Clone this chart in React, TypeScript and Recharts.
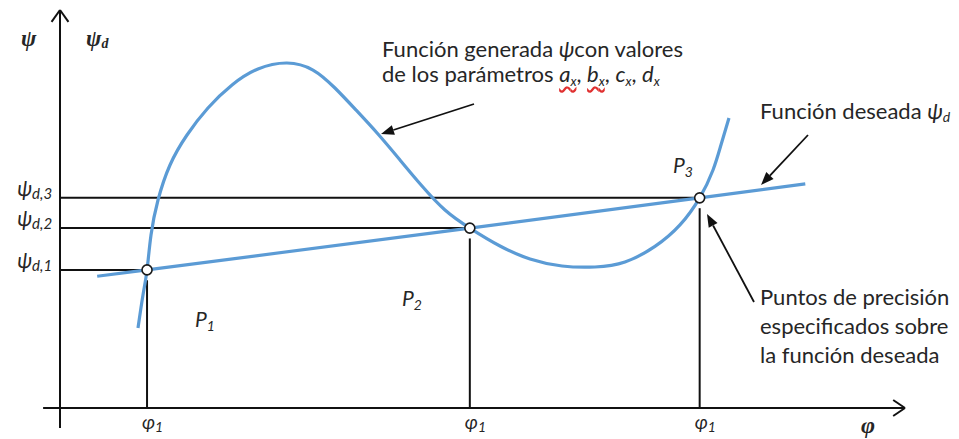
import React from "react";
import {
  ComposedChart,
  Line,
  Scatter,
  XAxis,
  YAxis,
  ReferenceLine,
  Customized,
} from "recharts";

// Precision points: angle φ and desired output ψd at each one
const PHI_POINTS = [10.3, 48.5, 75.7];
const PSI_DESIRED = [34.7, 45.2, 52.8];
const PSI_TICK_SUBS = ["d,1", "d,2", "d,3"];
const PHI_TICK_SUBS = ["1", "1", "1"];
const POINT_SUBS = ["1", "2", "3"];

// Desired function ψd (straight line through the precision points)
const DESIRED_PHI = [4.4, 10.3, 48.5, 75.7, 88.2];
const DESIRED_PSI = [33.1, 34.7, 45.2, 52.8, 56.3];

// Generated function ψ for parameters a, b, c, d
const GEN_PHI = [
  9.23, 9.82, 10.3, 10.77, 11.6, 13.02, 15.03, 17.51, 20.36, 23.43, 26.86,
  29.94, 32.54, 35.03, 37.63, 40.24, 42.84, 45.56, 48.5, 52.07, 55.62, 59.41,
  63.31, 66.86, 70.41, 73.37, 75.7, 77.28, 78.22, 79.17,
];
const GEN_PSI = [
  20.1, 28.39, 34.7, 43.47, 52.26, 61.06, 68.59, 75.38, 81.16, 85.18, 86.68,
  84.92, 80.4, 74.87, 68.84, 62.31, 55.78, 49.75, 45.2, 40.7, 37.44, 35.68,
  35.43, 36.68, 40.6, 46.0, 52.8, 59.8, 66.08, 72.86,
];

const X_DOMAIN: [number, number] = [-2, 100];
const Y_DOMAIN: [number, number] = [-5, 100];

const BLUE = "#5B9BD5";
const INK = "#262626";
const SANS = "Lato, 'Open Sans', sans-serif";
const SERIF = "'Liberation Serif', 'DejaVu Serif', serif";
const FS = 22;

const genData = GEN_PHI.map((x, i) => ({ x, y: GEN_PSI[i] }));
const desiredData = DESIRED_PHI.map((x, i) => ({ x, y: DESIRED_PSI[i] }));
const pointData = PHI_POINTS.map((x, i) => ({ x, y: PSI_DESIRED[i] }));

const PsiTick = (props: any) => {
  const { x, y, index } = props;
  return (
    <text
      x={x + 9}
      y={y - 2}
      textAnchor="end"
      fontFamily={SANS}
      fontStyle="italic"
      fontSize={21}
      fill={INK}
    >
      ψ
      <tspan fontSize={15} dy={3}>
        {PSI_TICK_SUBS[index]}
      </tspan>
    </text>
  );
};

const PhiTick = (props: any) => {
  const { x, y, index } = props;
  return (
    <text
      x={x - 5}
      y={y + 1}
      textAnchor="start"
      fontFamily={SANS}
      fontStyle="italic"
      fontSize={19}
      fill={INK}
    >
      φ
      <tspan fontSize={14} dy={3}>
        {PHI_TICK_SUBS[index]}
      </tspan>
    </text>
  );
};

const PointDot = (props: any) => (
  <circle cx={props.cx} cy={props.cy} r={5} fill="#fff" stroke="#1a1a1a" strokeWidth={1.6} />
);

type ArrowProps = { x1: number; y1: number; x2: number; y2: number };
const Arrow = ({ x1, y1, x2, y2 }: ArrowProps) => {
  const ang = Math.atan2(y2 - y1, x2 - x1);
  const len = 13;
  const half = 5;
  const bx = x2 - len * Math.cos(ang);
  const by = y2 - len * Math.sin(ang);
  const px = -Math.sin(ang) * half;
  const py = Math.cos(ang) * half;
  return (
    <g>
      <line x1={x1} y1={y1} x2={bx} y2={by} stroke="#111" strokeWidth={1.8} />
      <polygon
        points={`${x2},${y2} ${bx + px},${by + py} ${bx - px},${by - py}`}
        fill="#111"
      />
    </g>
  );
};

const squiggle: React.CSSProperties = {
  textDecorationLine: "underline",
  textDecorationStyle: "wavy",
  textDecorationColor: "#e03030",
  textUnderlineOffset: "4px",
};
const subStyle: React.CSSProperties = { fontSize: 13, verticalAlign: "-4px", lineHeight: 0 };

const Annotations = () => (
  <g>
    {/* axis names */}
    <text x={21} y={46} fontFamily={SERIF} fontStyle="italic" fontWeight="bold" fontSize={23} fill={INK}>
      ψ
    </text>
    <text x={86} y={46} fontFamily={SERIF} fontStyle="italic" fontWeight="bold" fontSize={23} fill={INK}>
      ψ
      <tspan fontSize={14} dy={2}>d</tspan>
    </text>
    <text x={861} y={433} fontFamily={SERIF} fontStyle="italic" fontWeight="bold" fontSize={24} fill={INK}>
      φ
    </text>

    {/* generated function callout */}
    <text x={382} y={57} fontFamily={SANS} fontSize={FS} fill={INK}>
      Función generada <tspan fontStyle="italic">ψ</tspan>con valores
    </text>
    <foreignObject x={382} y={61} width={340} height={32}>
      <div
        style={{
          fontFamily: SANS,
          fontSize: FS,
          color: INK,
          whiteSpace: "nowrap",
          lineHeight: "26px",
        }}
      >
        de los parámetros{" "}
        <i style={squiggle}>
          a<sub style={subStyle}>x</sub>
        </i>
        ,{" "}
        <i style={squiggle}>
          b<sub style={subStyle}>x</sub>
        </i>
        , <i>c<sub style={subStyle}>x</sub></i>, <i>d<sub style={subStyle}>x</sub></i>
      </div>
    </foreignObject>
    <Arrow x1={474} y1={104} x2={381} y2={134} />

    {/* desired function callout */}
    <text x={760} y={119} fontFamily={SANS} fontSize={FS} fill={INK}>
      Función deseada <tspan fontStyle="italic">ψ</tspan>
      <tspan fontStyle="italic" fontSize={14} dy={3}>d</tspan>
    </text>
    <Arrow x1={808} y1={135} x2={761} y2={185} />

    {/* precision points callout */}
    <text fontFamily={SANS} fontSize={FS} fill={INK}>
      <tspan x={760} y={305}>Puntos de precisión</tspan>
      <tspan x={760} y={334}>especificados sobre</tspan>
      <tspan x={760} y={363}>la función deseada</tspan>
    </text>
    <Arrow x1={754} y1={302} x2={707} y2={214} />

    {/* point names */}
    {[
      { x: 195, y: 327 },
      { x: 402, y: 306 },
      { x: 673, y: 173 },
    ].map((p, i) => (
      <text key={i} x={p.x} y={p.y} fontFamily={SANS} fontStyle="italic" fontSize={21} fill={INK}>
        P<tspan fontSize={14} dy={4}>{POINT_SUBS[i]}</tspan>
      </text>
    ))}
  </g>
);

export default function App() {
  return (
    <div style={{ position: "absolute", left: 0, top: 0, background: "#fff" }}>
      <ComposedChart
        width={959}
        height={439}
        margin={{ top: 10, right: 54, bottom: 0, left: 0 }}
      >
        <XAxis
          type="number"
          dataKey="x"
          domain={X_DOMAIN}
          allowDataOverflow
          ticks={PHI_POINTS}
          tick={<PhiTick />}
          axisLine={false}
          tickLine={false}
          tickSize={0}
          tickMargin={0}
          height={11.1}
          interval={0}
        />
        <YAxis
          type="number"
          dataKey="y"
          domain={Y_DOMAIN}
          allowDataOverflow
          ticks={PSI_DESIRED}
          tick={<PsiTick />}
          axisLine={false}
          tickLine={false}
          tickSize={0}
          tickMargin={0}
          width={43.1}
          interval={0}
        />

        {/* axes with open arrowheads */}
        <ReferenceLine y={0} stroke="#111" strokeWidth={2} ifOverflow="visible" />
        <ReferenceLine x={0} stroke="#111" strokeWidth={2} ifOverflow="visible" />
        <ReferenceLine segment={[{ x: -1, y: 97 }, { x: 0, y: 100 }]} stroke="#111" strokeWidth={2} />
        <ReferenceLine segment={[{ x: 1, y: 97 }, { x: 0, y: 100 }]} stroke="#111" strokeWidth={2} />
        <ReferenceLine segment={[{ x: 98.6, y: 2 }, { x: 100, y: 0 }]} stroke="#111" strokeWidth={2} />
        <ReferenceLine segment={[{ x: 98.6, y: -2 }, { x: 100, y: 0 }]} stroke="#111" strokeWidth={2} />

        {/* guide lines to the precision points */}
        {PHI_POINTS.map((phi, i) => (
          <ReferenceLine
            key={`h${i}`}
            segment={[{ x: 0, y: PSI_DESIRED[i] }, { x: phi, y: PSI_DESIRED[i] }]}
            stroke="#111"
            strokeWidth={2}
          />
        ))}
        {PHI_POINTS.map((phi, i) => (
          <ReferenceLine
            key={`v${i}`}
            segment={[{ x: phi, y: 0 }, { x: phi, y: PSI_DESIRED[i] - 2.6 }]}
            stroke="#111"
            strokeWidth={2}
          />
        ))}

        <Line
          data={desiredData}
          dataKey="y"
          type="linear"
          stroke={BLUE}
          strokeWidth={3.2}
          dot={false}
          activeDot={false}
          isAnimationActive={false}
        />
        <Line
          data={genData}
          dataKey="y"
          type="natural"
          stroke={BLUE}
          strokeWidth={3.2}
          dot={false}
          activeDot={false}
          isAnimationActive={false}
        />
        <Scatter data={pointData} dataKey="y" shape={<PointDot />} isAnimationActive={false} />

        <Customized component={<Annotations />} />
      </ComposedChart>
    </div>
  );
}
